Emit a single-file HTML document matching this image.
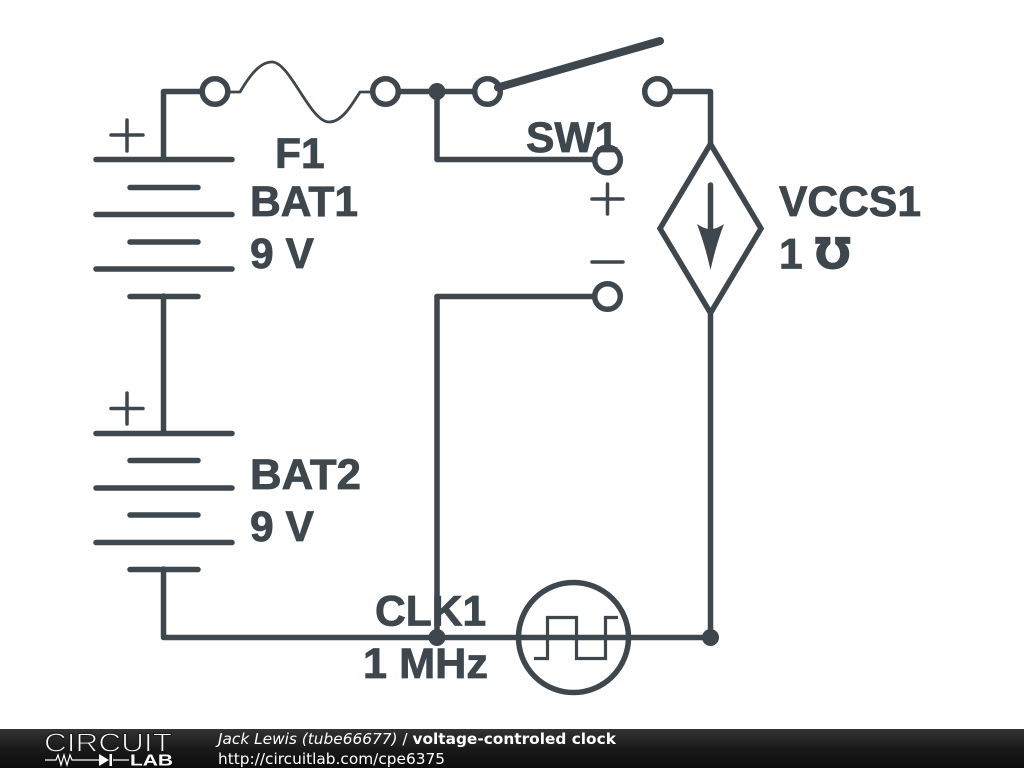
<!DOCTYPE html>
<html>
<head>
<meta charset="utf-8">
<style>
html,body{margin:0;padding:0;background:#fff;width:1024px;height:768px;overflow:hidden}
svg{display:block}
.l{font-family:"Liberation Sans",sans-serif;font-weight:bold;font-size:42.6px;fill:#3d474d;stroke:#3d474d;stroke-width:.8px}
.f{font-family:"DejaVu Sans",sans-serif;font-size:15.35px;fill:#fff}
</style>
</head>
<body>
<svg width="1024" height="768" viewBox="0 0 1024 768" xmlns="http://www.w3.org/2000/svg">
<defs>
<linearGradient id="g" x1="0" y1="0" x2="0" y2="1">
<stop offset="0" stop-color="#333"/>
<stop offset="0.5" stop-color="#1a1a1a"/>
<stop offset="1" stop-color="#0c0c0c"/>
</linearGradient>
</defs>
<rect width="1024" height="768" fill="#fff"/>
<g fill="none" stroke="#3d474d" stroke-width="5.500" stroke-linecap="round" stroke-linejoin="round">
<!-- wires -->
<path d="M163.500 159.500V91.500H215"/>
<path d="M385 91.500H487"/>
<path d="M437 91.500V159.500H607"/>
<path d="M437 296.500H607"/>
<path d="M437 296.500V637"/>
<path d="M657 91.500H710.500V146"/>
<path d="M710.500 312V637"/>
<path d="M163.500 569V637.500H710"/>
<path d="M163.500 296V433"/>
<!-- fuse -->
<path d="M229 92H240C250 75 260 62 272 62C290 62 310 122 329 122C341 122 350 108 360 92H372" stroke-width="2.800"/>
<!-- batteries -->
<path d="M96 159.500H232M130 187.500H198M96 214.500H232M130 242H198M96 269H232M130 296.500H198"/>
<path d="M96 433.500H232M130 460.500H198M96 488H232M130 515H198M96 542.500H232M130 569.500H198"/>
<path d="M111 135H143M127 120V151M111 408.500H143M127 393V424" stroke-width="3.500"/>
<path d="M592 199H623M607.500 184V214M592 262H623" stroke-width="3.500"/>
<!-- terminals -->
<circle cx="215" cy="91.500" r="12.800" fill="#fff"/>
<circle cx="385.500" cy="91.500" r="12.800" fill="#fff"/>
<circle cx="487.500" cy="91.500" r="12.800" fill="#fff"/>
<circle cx="657.500" cy="91.500" r="12.800" fill="#fff"/>
<circle cx="607.500" cy="160" r="12.800" fill="#fff"/>
<circle cx="607.500" cy="296.500" r="12.800" fill="#fff"/>
<!-- switch arm -->
<path d="M498 87.500L660 41" stroke-width="8"/>
<!-- VCCS -->
<path d="M710.500 144L761 228.500L710.500 313L660 228.500Z" fill="#fff" stroke-linejoin="miter"/>
<path d="M710.500 185V235"/>
<!-- clock -->
<circle cx="573.500" cy="637.500" r="55"/>
<path d="M534 658.500H547.500V617.500H576.500V658.500H605.500V617.500H618" stroke-width="3.200" stroke-linecap="butt" stroke-linejoin="miter"/>
</g>
<path d="M697 224Q704 229 710.500 229Q717 229 724 224Q716 245 710.500 270Q705 245 697 224Z" fill="#3d474d"/>
<circle cx="437" cy="91.500" r="8.500" fill="#3d474d"/>
<circle cx="437" cy="637.500" r="8.500" fill="#3d474d"/>
<circle cx="710.500" cy="637.500" r="8.500" fill="#3d474d"/>
<!-- labels -->
<text class="l" x="275" y="168">F1</text>
<text class="l" x="526" y="152">SW1</text>
<text class="l" x="250" y="216">BAT1</text>
<text class="l" x="250" y="268">9 V</text>
<text class="l" x="250" y="489" textLength="111" lengthAdjust="spacingAndGlyphs">BAT2</text>
<text class="l" x="250" y="541">9 V</text>
<text class="l" x="779" y="216">VCCS1</text>
<text class="l" x="779" y="268.500">1 <tspan font-family="'DejaVu Sans',sans-serif" font-size="43">℧</tspan></text>
<text class="l" x="375" y="625.500">CLK1</text>
<text class="l" x="363" y="678" textLength="125" lengthAdjust="spacingAndGlyphs">1 MHz</text>
<!-- footer -->
<rect x="0" y="729" width="1024" height="39" fill="url(#g)"/>
<text x="44" y="751.500" font-family="'Liberation Sans',sans-serif" font-size="25.500" textLength="128" lengthAdjust="spacingAndGlyphs" fill="#fff" stroke="#1c1c1c" stroke-width="1">CIRCUIT</text>
<path d="M45 760H56L58 755L61 765L64 755L67 765L70 755L72 760H100M113 760H129" fill="none" stroke="#fff" stroke-width="1.200"/>
<path d="M99 754V766L109 760ZM109.500 754H112V766H109.500Z" fill="#fff"/>
<text x="130" y="765.500" font-family="'Liberation Sans',sans-serif" font-weight="bold" font-size="16" textLength="43" lengthAdjust="spacingAndGlyphs" fill="#fff">LAB</text>
<text class="f" x="218" y="744"><tspan font-style="italic">Jack Lewis (tube66677)</tspan> / <tspan font-weight="bold">voltage-controled clock</tspan></text>
<text class="f" x="218" y="764">http://circuitlab.com/cpe6375</text>
</svg>
</body>
</html>
